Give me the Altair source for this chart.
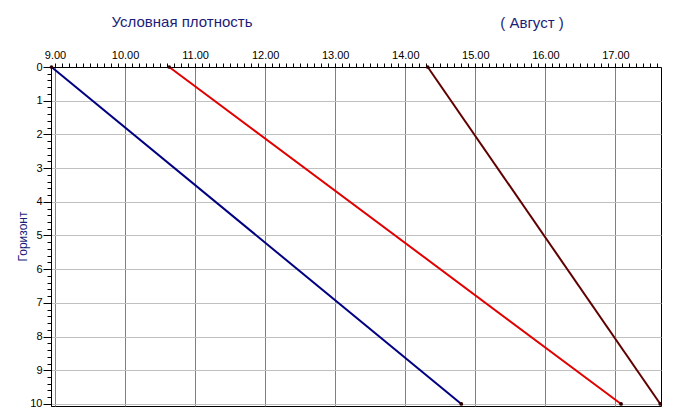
import altair as alt
import pandas as pd

# Data
depth = [0, 10]
series_a = [8.95, 14.80]
series_b = [10.63, 17.08]
series_c = [14.32, 17.64]
series_names = ["A", "B", "C"]
series_colors = ["#000080", "#e00000", "#600000"]
titles = ["Условная плотность", "( Август )"]
y_title = "Горизонт"
x_ticks = [round(9.0 + 0.1 * i, 1) for i in range(87)]
y_ticks = [round(0.2 * i, 1) for i in range(51)]

rows = []
for n, vals in zip(series_names, [series_a, series_b, series_c]):
    for d, v in zip(depth, vals):
        rows.append({"series": n, "depth": d, "value": v})
df = pd.DataFrame(rows)

is_int = "abs(datum.value - round(datum.value)) < 0.001"
FONT = "Liberation Sans"
NAVY = "#1c1c78"

x_enc = alt.X(
    "value:Q",
    scale=alt.Scale(domain=[8.943, 17.65], nice=False, zero=False),
    axis=alt.Axis(
        orient="top", values=x_ticks, tickCount=1000, title=None,
        labelExpr=f"{is_int} ? format(datum.value, '.2f') : ''",
        labelOverlap=False, labelFlush=False, labelFont=FONT, labelFontSize=11,
        labelColor="black", labelPadding=3,
        grid=True, gridColor="#808080",
        gridOpacity={"condition": {"test": is_int, "value": 1}, "value": 0},
        tickSize=4, tickColor="black", domainColor="black",
    ),
)
y_enc = alt.Y(
    "depth:Q",
    scale=alt.Scale(domain=[0, 10.06], nice=False, reverse=True, zero=False),
    axis=alt.Axis(
        values=y_ticks, tickCount=1000, title=y_title,
        labelExpr=f"{is_int} ? format(round(datum.value), 'd') : ''",
        labelOverlap=False, labelFlush=False, labelFont=FONT, labelFontSize=11,
        labelColor="black", labelPadding=1,
        grid=True, gridColor="#c0c0c0",
        gridOpacity={"condition": {"test": is_int, "value": 1}, "value": 0},
        tickSize={"condition": {"test": is_int, "value": 8}, "value": 4},
        tickColor="black", domainColor="black",
        titleFont=FONT, titleFontSize=12, titleFontWeight="normal",
        titleColor=NAVY, titleX=-29, titleY=169, titleAlign="center",
        titleBaseline="middle", titleAngle=270,
    ),
)
color_enc = alt.Color("series:N", scale=alt.Scale(domain=series_names, range=series_colors), legend=None)

lines = alt.Chart(df).mark_line(strokeWidth=2).encode(x=x_enc, y=y_enc, color=color_enc, detail="series:N")
points = alt.Chart(df).mark_point(filled=True, size=14, opacity=1).encode(
    x="value:Q", y="depth:Q", color=alt.value("#300000")
)

tdf = pd.DataFrame({"t": titles})
t1 = alt.Chart(tdf).transform_filter(f"datum.t == '{titles[0]}'").mark_text(
    font=FONT, fontSize=15, color=NAVY, baseline="middle"
).encode(text="t:N", x=alt.value(131), y=alt.value(-45))
t2 = alt.Chart(tdf).transform_filter(f"datum.t == '{titles[1]}'").mark_text(
    font=FONT, fontSize=15, color=NAVY, baseline="middle"
).encode(text="t:N", x=alt.value(481), y=alt.value(-44))

chart = alt.layer(lines, points, t1, t2).properties(
    width=610, height=339,
    autosize=alt.AutoSizeParams(type="none"),
    padding={"left": 43, "top": 59, "right": 6, "bottom": 5},
    background="white",
).configure_view(stroke="black", strokeWidth=1)

chart.save("out.html", embed_options={"renderer": "svg", "actions": False})
